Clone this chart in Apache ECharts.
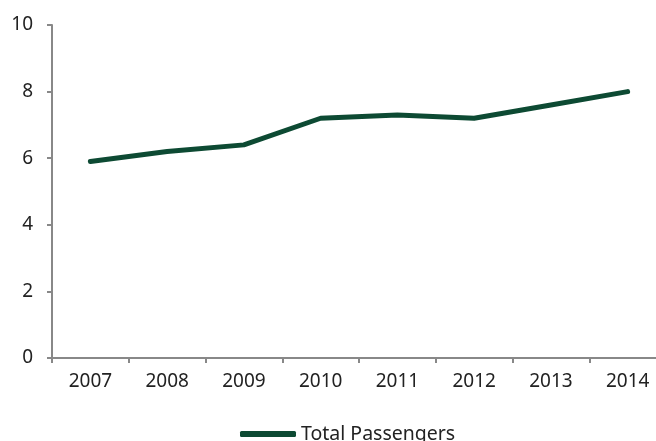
<!DOCTYPE html>
<html><head><meta charset="utf-8">
<script src="https://cdn.jsdelivr.net/npm/echarts@6/dist/echarts.min.js"></script>
<style>html,body{margin:0;padding:0;background:#fff;overflow:hidden}#c{width:666px;height:441px}</style>
</head><body><div id="c"></div>
<script>
const categories = ['2007','2008','2009','2010','2011','2012','2013','2014'];
const totalPassengers = [5.9, 6.2, 6.4, 7.2, 7.3, 7.2, 7.6, 8.0];
const seriesName = 'Total Passengers';

const chart = echarts.init(document.getElementById('c'));
const font = 'Noto Sans';
chart.setOption({
  animation: false,
  grid: {left: 52, top: 25, right: 0, bottom: 83, containLabel: false},
  legend: {
    data: [seriesName], bottom: -8, left: 235,
    icon: 'roundRect', itemWidth: 56, itemHeight: 6,
    textStyle: {fontFamily: font, fontSize: 19.5, color: '#222'}
  },
  xAxis: {
    type: 'category', data: categories, boundaryGap: true,
    axisLine: {lineStyle: {color: '#888', width: 2}},
    axisTick: {show: true, length: 5, lineStyle: {color: '#888', width: 2}},
    axisLabel: {fontFamily: font, fontSize: 19, color: '#222', margin: 14}
  },
  yAxis: {
    type: 'value', min: 0, max: 10, interval: 2,
    splitLine: {show: false},
    axisLine: {show: true, lineStyle: {color: '#888', width: 2}},
    axisTick: {show: true, length: 5, lineStyle: {color: '#888', width: 2}},
    axisLabel: {fontFamily: font, fontSize: 19, color: '#222', margin: 19}
  },
  series: [{
    name: seriesName, type: 'line', data: totalPassengers,
    showSymbol: false, symbol: 'none',
    lineStyle: {color: '#0d4a33', width: 5, cap: 'round', join: 'round'},
    itemStyle: {color: '#0d4a33'}
  }]
});
</script></body></html>
